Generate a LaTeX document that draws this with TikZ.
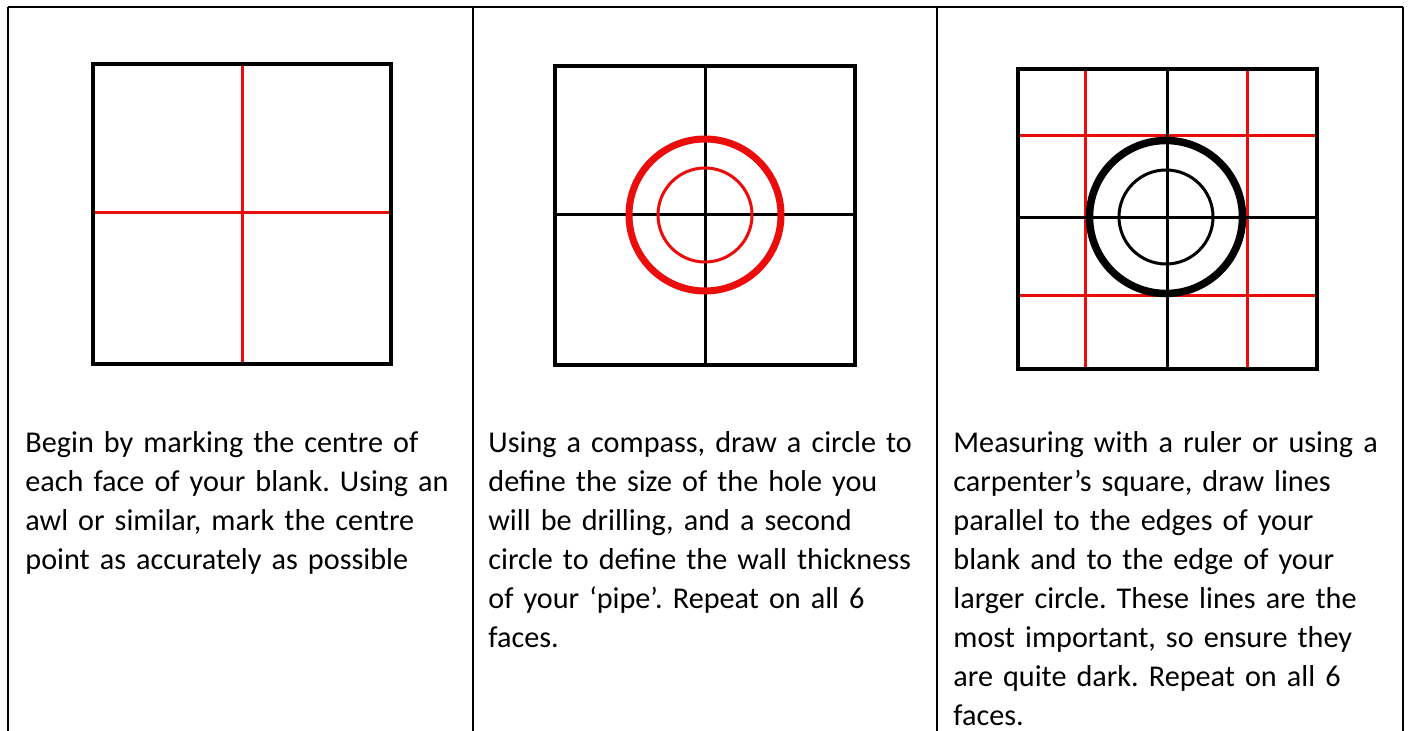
\documentclass[tikz,border=0pt]{standalone}
\usepackage{fontspec}
\setmainfont{Carlito}
\usepackage{tikz}
\usetikzlibrary{positioning}
\definecolor{MarkRed}{RGB}{235,12,12}
\frenchspacing

\tikzset{
  rule/.style={black,line width=1pt},
  blank/.style={black,line width=2pt},
  guide/.style={line width=1.5pt},
  steptext/.style={anchor=base west,inner sep=0pt,align=left,text width=225pt,
    font=\fontsize{15.1pt}{19.43pt}\selectfont}
}

\begin{document}
\begin{tikzpicture}[x=0.5pt,y=-0.5pt]
\useasboundingbox (0,0) rectangle (1408,731);
% table lines
\draw[rule] (8,7) -- (1403,7);
\foreach \x in {8,473,937,1403}
  \draw[rule] (\x,7) -- (\x,731);

% step 1: centre marks
\draw[guide,MarkRed] (242,66) -- (242,362);
\draw[guide,MarkRed] (95,213) -- (389,213);
\draw[blank] (93,64) rectangle (391,364);

% step 2: hole and wall circles
\draw[guide] (705,66) -- (705,365);
\draw[guide] (555,215) -- (855,215);
\draw[blank] (555,66) rectangle (855,365);
\draw[MarkRed,line width=3.5pt] (705,215) circle (76);
\draw[MarkRed,guide] (705,215) circle (47);

% step 3: lines parallel to the edges
\foreach \x in {1085,1247}
  \draw[guide,MarkRed] (\x,71) -- (\x,367);
\foreach \y in {136,296}
  \draw[guide,MarkRed] (1020,\y) -- (1315,\y);
\draw[guide] (1167,71) -- (1167,367);
\draw[guide] (1020,218) -- (1315,218);
\draw[blank] (1018,69) rectangle (1317,369);
\draw[line width=3.75pt] (1166,217) circle (76.5);
\draw[guide] (1166,217) circle (47);

% captions
\node[steptext] (txtA) at (25,453) {Begin by marking the centre of\\
each face of your blank. Using an\\
awl or similar, mark the centre\\
point as accurately as possible};
\node[steptext] (txtB) at (488,453) {Using a compass, draw a circle to\\
define the size of the hole you\\
will be drilling, and a second\\
circle to define the wall thickness\\
of your ‘pipe’. Repeat on all 6\\
faces.};
\node[steptext] (txtC) at (953,453) {Measuring with a ruler or using a\\
carpenter’s square, draw lines\\
parallel to the edges of your\\
blank and to the edge of your\\
larger circle. These lines are the\\
most important, so ensure they\\
are quite dark. Repeat on all 6\\
faces.};
\end{tikzpicture}
\end{document}
